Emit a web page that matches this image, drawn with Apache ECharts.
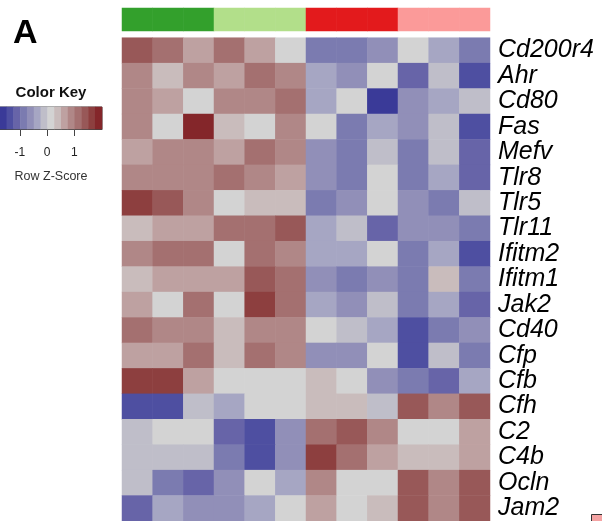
<!DOCTYPE html>
<html>
<head>
<meta charset="utf-8">
<script src="https://cdn.jsdelivr.net/npm/echarts@6/dist/echarts.min.js"></script>
<style>
  html, body { margin: 0; padding: 0; background: #fff; }
  #chart { width: 602px; height: 521px; }
</style>
</head>
<body>
<div id="chart"></div>
<script>
// genes, top to bottom
var genes = ['Cd200r4', 'Ahr', 'Cd80', 'Fas', 'Mefv', 'Tlr8', 'Tlr5', 'Tlr11', 'Ifitm2', 'Ifitm1',
    'Jak2', 'Cd40', 'Cfp', 'Cfb', 'Cfh', 'C2', 'C4b', 'Ocln', 'Jam2'];
// 12 samples, 3 per group
var samples = ['s1', 's2', 's3', 's4', 's5', 's6', 's7', 's8', 's9', 's10', 's11', 's12'];
var sampleGroup = [0, 0, 0, 1, 1, 1, 2, 2, 2, 3, 3, 3];
var groupColors = ['#33a02c', '#b2df8a', '#e31a1c', '#fb9a99'];

// row z-scores, one array per gene
var zCd200r4 = [1.3, 1.1, 0.5, 1.1, 0.5, 0, -1.1, -1.1, -0.8, 0, -0.5, -1.1];
var zAhr     = [0.8, 0.3, 0.8, 0.5, 1.1, 0.8, -0.5, -0.8, 0, -1.3, -0.3, -1.6];
var zCd80    = [0.8, 0.5, 0, 0.8, 0.8, 1.1, -0.5, 0, -1.9, -0.8, -0.5, -0.3];
var zFas     = [0.8, 0, 1.9, 0.3, 0, 0.8, 0, -1.1, -0.5, -0.8, -0.3, -1.6];
var zMefv    = [0.5, 0.8, 0.8, 0.5, 1.1, 0.8, -0.8, -1.1, -0.3, -1.1, -0.3, -1.3];
var zTlr8    = [0.8, 0.8, 0.8, 1.1, 0.8, 0.5, -0.8, -1.1, 0, -1.1, -0.5, -1.3];
var zTlr5    = [1.6, 1.3, 0.8, 0, 0.3, 0.3, -1.1, -0.8, 0, -0.8, -1.1, -0.3];
var zTlr11   = [0.3, 0.5, 0.5, 1.1, 1.1, 1.3, -0.5, -0.3, -1.3, -0.8, -0.8, -1.1];
var zIfitm2  = [0.8, 1.1, 1.1, 0, 1.1, 0.8, -0.5, -0.5, 0, -1.1, -0.5, -1.6];
var zIfitm1  = [0.3, 0.5, 0.5, 0.5, 1.3, 1.1, -0.8, -1.1, -0.8, -1.1, 0.3, -1.1];
var zJak2    = [0.5, 0, 1.1, 0, 1.6, 1.1, -0.5, -0.8, -0.3, -1.1, -0.5, -1.3];
var zCd40    = [1.1, 0.8, 0.8, 0.3, 0.8, 0.8, 0, -0.3, -0.5, -1.6, -1.1, -0.8];
var zCfp     = [0.5, 0.5, 1.1, 0.3, 1.1, 0.8, -0.8, -0.8, 0, -1.6, -0.3, -1.1];
var zCfb     = [1.6, 1.6, 0.5, 0, 0, 0, 0.3, 0, -0.8, -1.1, -1.3, -0.5];
var zCfh     = [-1.6, -1.6, -0.3, -0.5, 0, 0, 0.3, 0.3, -0.3, 1.3, 0.8, 1.3];
var zC2      = [-0.3, 0, 0, -1.3, -1.6, -0.8, 1.1, 1.3, 0.8, 0, 0, 0.5];
var zC4b     = [-0.3, -0.3, -0.3, -1.1, -1.6, -0.8, 1.6, 1.1, 0.5, 0.3, 0.3, 0.5];
var zOcln    = [-0.3, -1.1, -1.3, -0.8, 0, -0.5, 0.8, 0, 0, 1.3, 0.8, 1.3];
var zJam2    = [-1.3, -0.5, -0.8, -0.8, -0.5, 0, 0.5, 0, 0.3, 1.3, 0.8, 1.3];

var zRows = [zCd200r4, zAhr, zCd80, zFas, zMefv, zTlr8, zTlr5, zTlr11, zIfitm2, zIfitm1,
    zJak2, zCd40, zCfp, zCfb, zCfh, zC2, zC4b, zOcln, zJam2];

// colour key: 15 bins from -2 to 2
var keyColors = ['#3a3a98', '#4e4fa1', '#6764a8', '#7b7bb0', '#918fb8', '#a6a6c3', '#bfbec9', '#d3d3d3',
    '#c9bcbc', '#bea1a1', '#b08787', '#a47070', '#985858', '#8d3f3f', '#84262a'];
var keyMin = -2, keyMax = 2;
var keyTicks = [-1, 0, 1];

var font = 'Liberation Sans, Arial, Helvetica, sans-serif';
var binW = (keyMax - keyMin) / keyColors.length;

// pieces for the visualMap
var pieces = keyColors.map(function (c, i) {
    var p = { color: c };
    if (i > 0) p.gte = keyMin + i * binW;
    if (i < keyColors.length - 1) p.lt = keyMin + (i + 1) * binW;
    return p;
});

var heatData = [];
zRows.forEach(function (row, r) {
    row.forEach(function (v, c) {
        heatData.push([c, r, v]);
    });
});

var groupData = sampleGroup.map(function (g, c) {
    return { value: [c, 0, g], itemStyle: { color: groupColors[g] } };
});

var keyData = keyColors.map(function (c, i) {
    return [i, 0, keyMin + (i + 0.5) * binW];
});

var myChart = echarts.init(document.getElementById('chart'));
var option = {
    animation: false,
    textStyle: { fontFamily: font },
    title: [
        { text: 'A', left: 8, top: 12, textStyle: { fontSize: 34, fontWeight: 'bold', color: '#000', fontFamily: font } },
        { text: 'Color Key', left: 46, top: 80, textAlign: 'center', textStyle: { fontSize: 15, fontWeight: 'bold', color: '#111', fontFamily: font } },
        { text: 'Row Z-Score', left: 46, top: 165, textAlign: 'center', textStyle: { fontSize: 12.5, fontWeight: 'normal', color: '#333', fontFamily: font } }
    ],
    grid: [
        { left: 122, top: 37.7, width: 368, height: 484.5 },
        { left: 122, top: 8, width: 368, height: 23 },
        { left: -2, top: 107, width: 104, height: 22, show: true, borderColor: '#444', borderWidth: 1, backgroundColor: 'transparent' }
    ],
    xAxis: [
        { type: 'category', gridIndex: 0, data: samples, show: false },
        { type: 'category', gridIndex: 1, data: samples, show: false },
        { type: 'category', gridIndex: 2, data: keyColors.map(function (c, i) { return i; }), show: false },
        {
            type: 'value', gridIndex: 2, position: 'bottom',
            min: (-2 - 46) / 27.75, max: (102 - 46) / 27.75,
            splitLine: { show: false },
            axisLine: { show: true, lineStyle: { color: '#444', width: 1 } },
            axisTick: { show: true, length: 7, customValues: keyTicks, lineStyle: { color: '#444' } },
            axisLabel: { customValues: keyTicks, margin: 18, fontSize: 12, color: '#222', fontFamily: font }
        }
    ],
    yAxis: [
        {
            type: 'category', gridIndex: 0, data: genes, inverse: true, position: 'right',
            axisLine: { show: false }, axisTick: { show: false },
            axisLabel: { interval: 0, margin: 8, fontSize: 25, fontStyle: 'italic', color: '#000', fontFamily: font }
        },
        { type: 'category', gridIndex: 1, data: ['group'], show: false },
        { type: 'category', gridIndex: 2, data: ['key'], show: false }
    ],
    visualMap: {
        type: 'piecewise', show: false, dimension: 2, seriesIndex: [0, 2],
        pieces: pieces
    },
    series: [
        {
            type: 'heatmap', xAxisIndex: 0, yAxisIndex: 0, data: heatData,
            itemStyle: { borderWidth: 0 }, emphasis: { disabled: true }
        },
        {
            type: 'heatmap', xAxisIndex: 1, yAxisIndex: 1, data: groupData,
            itemStyle: { borderWidth: 0 }, emphasis: { disabled: true }
        },
        {
            type: 'heatmap', xAxisIndex: 2, yAxisIndex: 2, data: keyData,
            itemStyle: { borderWidth: 0 }, emphasis: { disabled: true }
        }
    ],
    graphic: [
        { type: 'rect', left: 591, top: 514, shape: { width: 14, height: 10 }, style: { fill: '#f4a3a3', stroke: '#333', lineWidth: 1 } }
    ]
};
myChart.setOption(option);
</script>
</body>
</html>
